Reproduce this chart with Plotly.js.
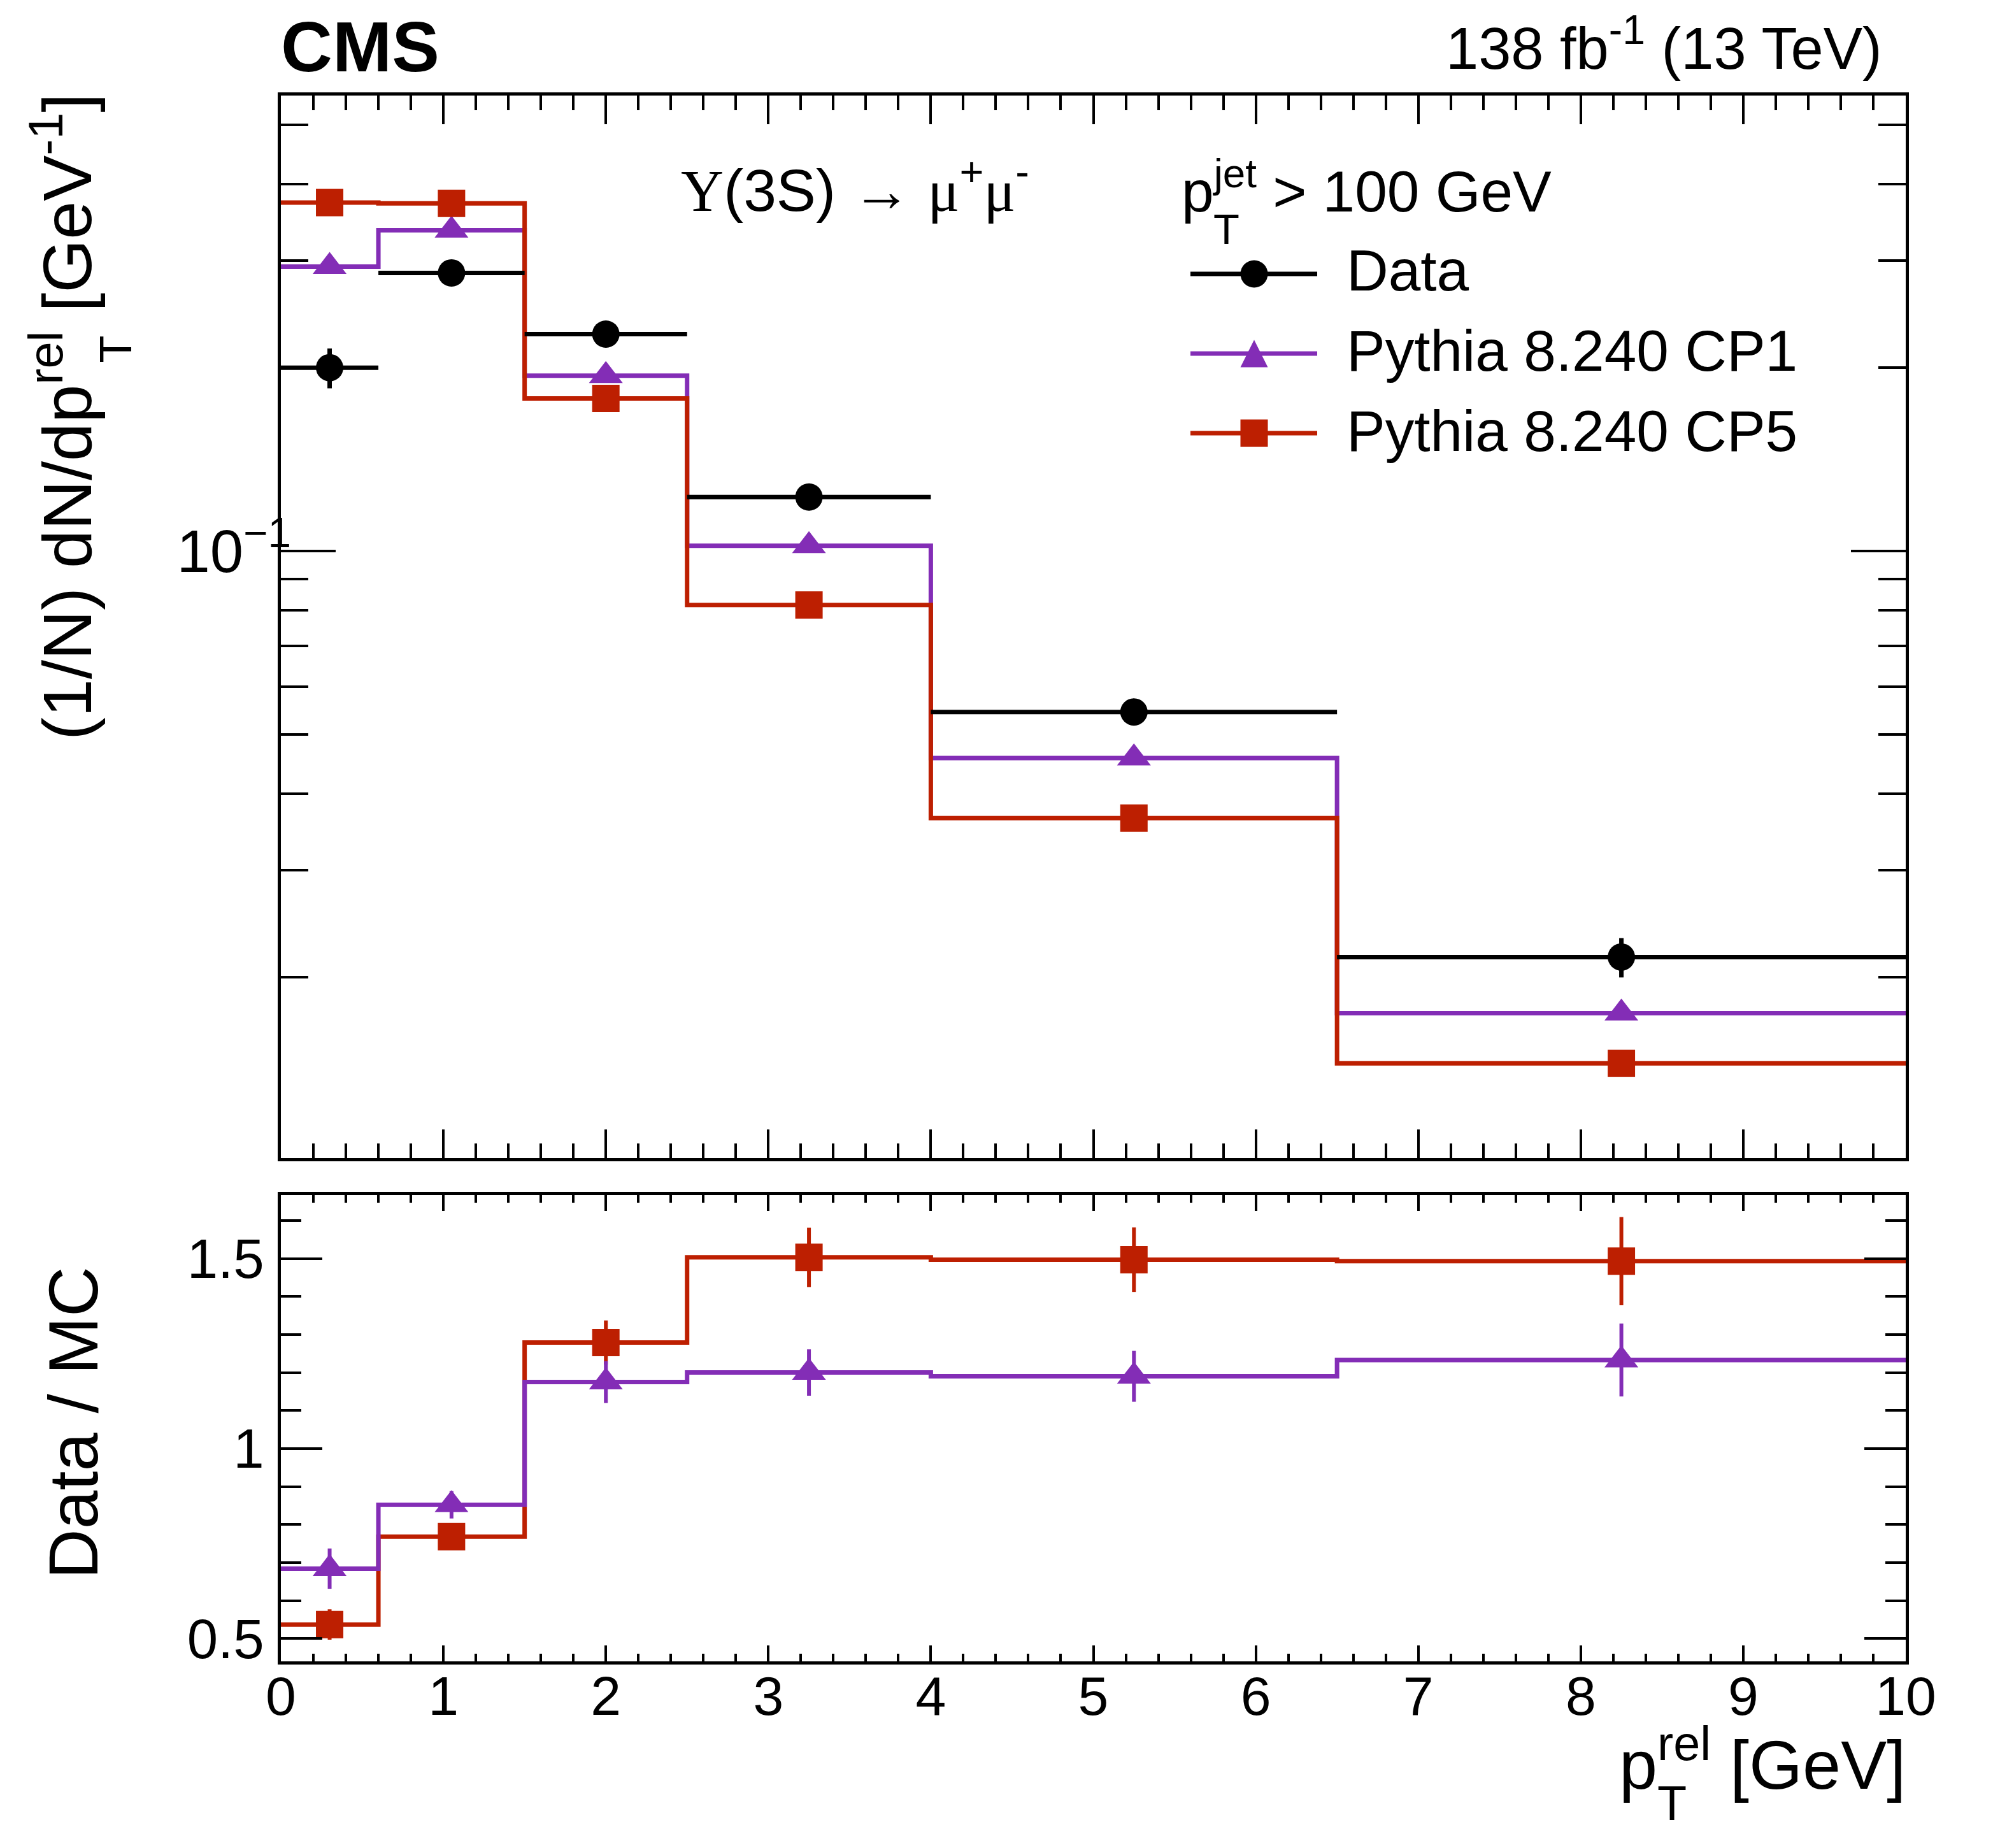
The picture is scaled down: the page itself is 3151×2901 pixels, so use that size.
<!DOCTYPE html>
<html>
<head>
<meta charset="utf-8">
<script src="https://cdn.plot.ly/plotly-3.0.1.min.js"></script>
<style>body{margin:0;background:#fff}</style>
</head>
<body>
<div id="chart" style="width:3151px;height:2901px"></div>
<script>
// bin edges of p_T^rel [GeV]
var binEdges = [0, 0.6, 1.5, 2.5, 4, 6.5, 10];

// (1/N) dN/dp_T^rel
var dataValues = [0.200, 0.286, 0.227, 0.1227, 0.0545, 0.0216];
var dataErrors = [0.015, 0.008, 0.007, 0.004, 0.002, 0.0016];
var cp1Values  = [0.293, 0.336, 0.194, 0.1021, 0.0458, 0.01747];
var cp5Values  = [0.373, 0.372, 0.178, 0.0816, 0.0365, 0.01446];

// Data / MC
var ratioCP1       = [0.684, 0.852, 1.175, 1.200, 1.190, 1.233];
var ratioCP1Errors = [0.053, 0.036, 0.055, 0.061, 0.067, 0.096];
var ratioCP5       = [0.537, 0.768, 1.279, 1.503, 1.497, 1.493];
var ratioCP5Errors = [0.040, 0.030, 0.058, 0.078, 0.085, 0.116];

// ticks
var topMajorTicks = [0.1];
var topMajorText  = ['10<sup>\u22121</sup>'];
var topMinorTicks = [0.02, 0.03, 0.04, 0.05, 0.06, 0.07, 0.08, 0.09, 0.2, 0.3, 0.4, 0.5];
var ratioTicks     = [0.5, 1, 1.5];
var ratioTickText  = ['0.5', '1', '1.5'];

var PURPLE = '#832db6';
var RED = '#bd1f01';
var FONT = '"Liberation Sans", Arial, Helvetica, sans-serif';

var binCenters = [];
var binHalfWidths = [];
for (var i = 0; i < binEdges.length - 1; i++) {
    binCenters.push((binEdges[i] + binEdges[i + 1]) / 2);
    binHalfWidths.push((binEdges[i + 1] - binEdges[i]) / 2);
}
var stepY = function (vals) {
    return vals.concat([vals[vals.length - 1]]);
};

// pixel -> paper helpers (plot area 441..2992 x 150..2608)
var xp = function (px) { return (px - 441) / 2551; };
var yp = function (py) { return (2608 - py) / 2458; };

var stepTrace = function (vals, color, xa, ya) {
    return {
        x: binEdges, y: stepY(vals), xaxis: xa, yaxis: ya,
        mode: 'lines', line: {shape: 'hv', color: color, width: 7},
        hoverinfo: 'skip'
    };
};
var markerTrace = function (vals, errs, color, symbol, size, xa, ya) {
    var t = {
        x: binCenters, y: vals, xaxis: xa, yaxis: ya,
        mode: 'markers', marker: {symbol: symbol, size: size, color: color, line: {width: 0}}
    };
    if (errs) {
        t.error_y = {type: 'data', array: errs, width: 0, thickness: 6, color: color};
    }
    return t;
};

var dataTrace = {
    x: binCenters, y: dataValues, xaxis: 'x', yaxis: 'y',
    mode: 'markers',
    marker: {symbol: 'circle', size: 43, color: 'black'},
    error_x: {type: 'data', array: binHalfWidths, width: 0, thickness: 7, color: 'black'},
    error_y: {type: 'data', array: dataErrors, width: 0, thickness: 7, color: 'black'}
};

var traces = [
    stepTrace(cp1Values, PURPLE, 'x', 'y'),
    markerTrace(cp1Values, null, PURPLE, 'triangle-up', 46, 'x', 'y'),
    stepTrace(cp5Values, RED, 'x', 'y'),
    markerTrace(cp5Values, null, RED, 'square', 43, 'x', 'y'),
    dataTrace,
    stepTrace(ratioCP5, RED, 'x2', 'y2'),
    markerTrace(ratioCP5, ratioCP5Errors, RED, 'square', 43, 'x2', 'y2'),
    stepTrace(ratioCP1, PURPLE, 'x2', 'y2'),
    markerTrace(ratioCP1, ratioCP1Errors, PURPLE, 'triangle-up', 46, 'x2', 'y2')
];

var frameAxis = {
    showline: true, linecolor: 'black', linewidth: 5, mirror: 'allticks',
    ticks: 'inside', tickcolor: 'black', tickwidth: 4,
    showgrid: false, zeroline: false, fixedrange: true
};
var xAxisBase = function (len, minorLen) {
    return Object.assign({}, frameAxis, {
        range: [0, 10], tickmode: 'linear', tick0: 0, dtick: 1, ticklen: len,
        minor: {tickmode: 'linear', tick0: 0, dtick: 0.2, ticklen: minorLen, ticks: 'inside', tickwidth: 4, tickcolor: 'black'}
    });
};

var annBase = {showarrow: false, xref: 'paper', yref: 'paper', borderpad: 0, borderwidth: 0};
var ann = function (o) { return Object.assign({}, annBase, o); };
var txt = function (size) { return {family: FONT, size: size, color: 'black'}; };
var SERIF = function (s) { return '<span style="font-family:Liberation Serif">' + s + '</span>'; };
// subscript drawn under the following superscript
var stackedSub = '<sub><span style="letter-spacing:-0.611em;baseline-shift:-0.35em">T</span></sub>';

var annotations = [
    ann({text: '<b>CMS</b>', x: xp(441), xanchor: 'left', y: yp(135.7), yanchor: 'bottom', font: txt(112)}),
    ann({text: '138 fb<sup>-1</sup> (13 TeV)', x: xp(2955), xanchor: 'right', y: yp(127.5), yanchor: 'bottom', font: txt(92)}),
    ann({text: SERIF('\u03a5') + '(3S) \u2192 ' + SERIF('\u03bc') + '<sup>+</sup>' + SERIF('\u03bc') + '<sup>-</sup>',
         x: xp(1069), xanchor: 'left', y: yp(351.5), yanchor: 'bottom', font: txt(93)}),
    ann({text: 'p<sup>jet</sup> &gt; 100 GeV', x: xp(1855), xanchor: 'left', y: yp(351), yanchor: 'bottom', font: txt(91)}),
    ann({text: 'T', x: xp(1905), xanchor: 'left', y: yp(397), yanchor: 'bottom', font: txt(67)}),
    ann({text: 'Data', x: xp(2114), xanchor: 'left', y: yp(475), yanchor: 'bottom', font: txt(91)}),
    ann({text: 'Pythia 8.240 CP1', x: xp(2114), xanchor: 'left', y: yp(601), yanchor: 'bottom', font: txt(91)}),
    ann({text: 'Pythia 8.240 CP5', x: xp(2114), xanchor: 'left', y: yp(727), yanchor: 'bottom', font: txt(91)}),
    ann({text: 'p' + stackedSub + '<sup>rel</sup> [GeV]', x: xp(2992), xanchor: 'right', y: yp(2857), yanchor: 'bottom', font: txt(108)}),
    ann({text: '(1/N) dN/dp<sup>rel</sup> [GeV<sup>-1</sup>]', textangle: -90, x: xp(166), xanchor: 'right', y: yp(146), yanchor: 'top', font: txt(108)}),
    ann({text: 'T', textangle: -90, x: xp(220), xanchor: 'right', y: yp(527), yanchor: 'top', font: txt(70)}),
    ann({text: 'Data / MC', textangle: -90, x: xp(176), xanchor: 'right', y: yp(2234), yanchor: 'middle', font: txt(109)})
];

// legend keys
var legendRows = [
    {y: 430, color: 'black', key: 'circle'},
    {y: 555, color: PURPLE, key: 'triangle'},
    {y: 680, color: RED, key: 'square'}
];
var shapes = [];
legendRows.forEach(function (r) {
    shapes.push({type: 'line', xref: 'paper', yref: 'paper', x0: xp(1869), x1: xp(2068), y0: yp(r.y), y1: yp(r.y),
                 line: {color: r.color, width: 7}});
    var cx = 1969, h = 21.5;
    if (r.key === 'circle') {
        shapes.push({type: 'circle', xref: 'paper', yref: 'paper', x0: xp(cx - h), x1: xp(cx + h), y0: yp(r.y + h), y1: yp(r.y - h),
                     fillcolor: r.color, line: {width: 0}});
    } else if (r.key === 'square') {
        shapes.push({type: 'rect', xref: 'paper', yref: 'paper', x0: xp(cx - h), x1: xp(cx + h), y0: yp(r.y + h), y1: yp(r.y - h),
                     fillcolor: r.color, line: {width: 0}});
    } else {
        shapes.push({type: 'path', xref: 'paper', yref: 'paper',
                     path: 'M' + xp(cx - h) + ',' + yp(r.y + h) + ' L' + xp(cx + h) + ',' + yp(r.y + h) + ' L' + xp(cx) + ',' + yp(r.y - h) + ' Z',
                     fillcolor: r.color, line: {width: 0}});
    }
});

var layout = {
    width: 3151, height: 2901,
    margin: {l: 441, r: 159, t: 150, b: 293},
    paper_bgcolor: 'white', plot_bgcolor: 'white',
    showlegend: false, hovermode: false,
    font: {family: FONT, color: 'black'},
    xaxis: Object.assign(xAxisBase(45, 23), {anchor: 'y', showticklabels: false}),
    yaxis: Object.assign({}, frameAxis, {
        domain: [0.3214, 1], anchor: 'x', type: 'log',
        range: [Math.log10(0.01011), Math.log10(0.5588)],
        tickmode: 'array', tickvals: topMajorTicks, ticktext: topMajorText, ticklen: 86,
        tickfont: {family: FONT, size: 94}, ticklabelstandoff: -40,
        minor: {tickmode: 'array', tickvals: topMinorTicks, ticklen: 43, ticks: 'inside', tickwidth: 4, tickcolor: 'black'}
    }),
    xaxis2: Object.assign(xAxisBase(25, 12), {
        anchor: 'y2', showticklabels: true, tickfont: {family: FONT, size: 86}, ticklabelstandoff: -24
    }),
    yaxis2: Object.assign({}, frameAxis, {
        domain: [0, 0.2978], anchor: 'x2', range: [0.44, 1.667],
        tickmode: 'array', tickvals: ratioTicks, ticktext: ratioTickText, ticklen: 65,
        tickfont: {family: FONT, size: 87}, ticklabelstandoff: 4,
        minor: {tickmode: 'linear', tick0: 0, dtick: 0.1, ticklen: 32, ticks: 'inside', tickwidth: 4, tickcolor: 'black'}
    }),
    annotations: annotations,
    shapes: shapes
};

Plotly.newPlot('chart', traces, layout, {staticPlot: true});
</script>
</body>
</html>
